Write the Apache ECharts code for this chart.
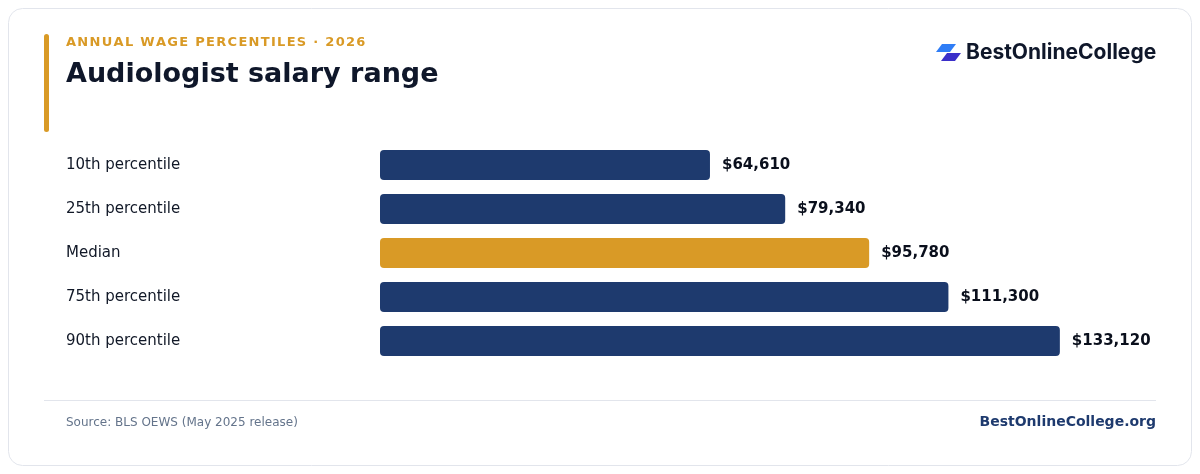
<!DOCTYPE html>
<html><head><meta charset="utf-8">
<script src="https://cdn.jsdelivr.net/npm/echarts@6/dist/echarts.min.js"></script>
<style>html,body{margin:0;padding:0;background:#fff}#c{width:1200px;height:474px}</style>
</head><body><div id="c"></div>
<script>
const categories = ['10th percentile','25th percentile','Median','75th percentile','90th percentile'];
const values = [64610, 79340, 95780, 111300, 133120];
const highlight = 'Median';
const ff = 'DejaVu Sans';
const chart = echarts.init(document.getElementById('c'));
const kicker = 'ANNUAL WAGE PERCENTILES · 2026'.split('').join('\u200A');
chart.setOption({
  animation:false,
  grid:{left:380,right:105,top:143,bottom:111,containLabel:false},
  xAxis:{type:'value',min:0,max:140000,show:false},
  yAxis:{type:'category',data:categories,inverse:true,axisLine:{show:false},axisTick:{show:false},
    axisLabel:{align:'left',margin:314,fontFamily:ff,fontSize:15,color:'#111827'}},
  series:[{type:'bar',barWidth:30,
    data:values.map((v,i)=>({value:v,itemStyle:{color:categories[i]===highlight?'#d99a26':'#1e3a6e',borderRadius:4}})),
    label:{show:true,position:'right',distance:12,fontFamily:ff,fontSize:15,fontWeight:'bold',color:'#0a0f1c',
      formatter:p=>'$'+p.value.toLocaleString('en-US')}}],
  graphic:[
    {type:'rect',shape:{x:8.5,y:8.5,width:1183,height:457,r:14},style:{fill:'none',stroke:'#e2e5ec',lineWidth:1},z:-1},
    {type:'rect',shape:{x:44,y:34,width:5,height:98,r:2.5},style:{fill:'#d99a26'}},
    {type:'text',x:66,y:36,style:{text:kicker,fontFamily:ff,fontSize:13,fontWeight:'bold',fill:'#d99a26'}},
    {type:'text',x:66,y:61,style:{text:'Audiologist salary range',fontFamily:ff,fontSize:27,fontWeight:'bold',fill:'#0f172a'}},
    {type:'polygon',shape:{points:[[942,44],[956,44],[950,52],[936,52]]},style:{fill:'#2f7df6'}},
    {type:'polygon',shape:{points:[[947,53],[961,53],[955,61],[941,61]]},style:{fill:'#3b2fc9'}},
    {type:'text',x:966,y:42,style:{text:'BestOnlineCollege',fontFamily:'Inter',fontSize:21,fontWeight:'bold',fill:'#0f172a'}},
    {type:'line',shape:{x1:44,y1:400.5,x2:1156,y2:400.5},style:{stroke:'#e2e5ec',lineWidth:1}},
    {type:'text',x:66,y:417,style:{text:'Source: BLS OEWS (May 2025 release)',fontFamily:ff,fontSize:12,fill:'#64748b'}},
    {type:'text',x:1156,y:415,style:{text:'BestOnlineCollege.org',fontFamily:ff,fontSize:14,fontWeight:'bold',fill:'#1e3a6e',align:'right'}}
  ]
});
</script></body></html>
